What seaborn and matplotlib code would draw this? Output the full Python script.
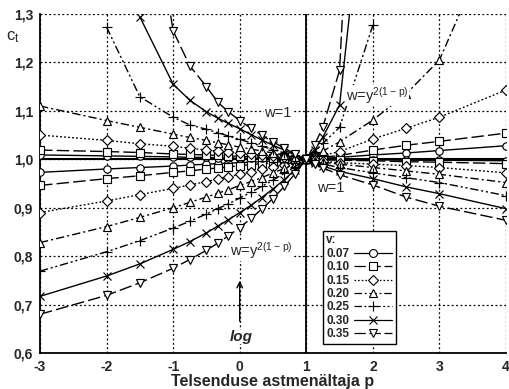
import numpy as np
import matplotlib
matplotlib.use("Agg")
import matplotlib.pyplot as plt
import seaborn as sns
from matplotlib.lines import Line2D

nan = np.nan

# ---------------- data ----------------
V_LABELS = ["0.07", "0.10", "0.15", "0.20", "0.25", "0.30", "0.35"]

P_LEFT = [-3, -2, -1.5, -1, -0.75, -0.5, -0.33, -0.17, 0, 0.17, 0.33, 0.5, 0.67, 0.83, 1]
P_RIGHT = [1, 1.125, 1.25, 1.5, 2, 2.5, 3, 4]

# left side, w = y^(2(1-p))  (lower fan)
LEFT_WY_07 = [0.973, 0.980, 0.983, 0.986, 0.988, 0.990, 0.991, 0.992, 0.993, 0.994, 0.995, 0.997, 0.998, 0.999, 1.0]
LEFT_WY_10 = [0.946, 0.960, 0.966, 0.973, 0.976, 0.980, 0.982, 0.984, 0.987, 0.989, 0.991, 0.993, 0.996, 0.998, 1.0]
LEFT_WY_15 = [0.890, 0.914, 0.927, 0.940, 0.947, 0.954, 0.959, 0.964, 0.969, 0.974, 0.979, 0.984, 0.989, 0.994, 1.0]
LEFT_WY_20 = [0.828, 0.861, 0.880, 0.900, 0.911, 0.922, 0.930, 0.937, 0.946, 0.954, 0.962, 0.972, 0.981, 0.990, 1.0]
LEFT_WY_25 = [0.769, 0.809, 0.832, 0.858, 0.872, 0.887, 0.898, 0.908, 0.920, 0.932, 0.944, 0.957, 0.971, 0.985, 1.0]
LEFT_WY_30 = [0.717, 0.759, 0.784, 0.814, 0.830, 0.848, 0.862, 0.875, 0.890, 0.905, 0.921, 0.939, 0.958, 0.978, 1.0]
LEFT_WY_35 = [0.680, 0.719, 0.745, 0.775, 0.793, 0.812, 0.827, 0.842, 0.859, 0.878, 0.897, 0.919, 0.944, 0.970, 1.0]

# left side, w = 1  (upper fan)
LEFT_W1_07 = [1.009, 1.007, 1.006, 1.005, 1.004, 1.004, 1.003, 1.003, 1.002, 1.002, 1.002, 1.001, 1.001, 1.000, 1.0]
LEFT_W1_10 = [1.019, 1.016, 1.014, 1.011, 1.010, 1.009, 1.008, 1.007, 1.006, 1.005, 1.004, 1.003, 1.002, 1.001, 1.0]
LEFT_W1_15 = [1.050, 1.039, 1.032, 1.027, 1.023, 1.019, 1.017, 1.015, 1.013, 1.010, 1.008, 1.006, 1.004, 1.002, 1.0]
LEFT_W1_20 = [1.110, 1.080, 1.066, 1.052, 1.045, 1.039, 1.034, 1.030, 1.025, 1.021, 1.017, 1.013, 1.008, 1.004, 1.0]
LEFT_W1_25 = [nan, 1.273, 1.129, 1.087, 1.071, 1.062, 1.055, 1.048, 1.041, 1.034, 1.027, 1.020, 1.013, 1.006, 1.0]
LEFT_W1_30 = [nan, nan, 1.294, 1.155, 1.122, 1.098, 1.085, 1.074, 1.063, 1.051, 1.040, 1.029, 1.019, 1.009, 1.0]
LEFT_W1_35 = [nan, nan, 1.700, 1.265, 1.193, 1.150, 1.118, 1.098, 1.080, 1.064, 1.050, 1.036, 1.023, 1.011, 1.0]

# right side, w = y^(2(1-p))  (upper fan)
RIGHT_WY_07 = [1.0, 1.001, 1.002, 1.004, 1.009, 1.013, 1.018, 1.028]
RIGHT_WY_10 = [1.0, 1.002, 1.004, 1.008, 1.019, 1.029, 1.037, 1.054]
RIGHT_WY_15 = [1.0, 1.004, 1.008, 1.016, 1.042, 1.064, 1.087, 1.143]
RIGHT_WY_20 = [1.0, 1.008, 1.017, 1.036, 1.081, 1.135, 1.205, 1.520]
RIGHT_WY_25 = [1.0, 1.015, 1.033, 1.066, 1.277, nan, nan, nan]
RIGHT_WY_30 = [1.0, 1.020, 1.046, 1.112, 1.740, nan, nan, nan]
RIGHT_WY_35 = [1.0, 1.030, 1.067, 1.184, 2.500, nan, nan, nan]

# right side, w = 1  (lower fan)
RIGHT_W1_07 = [1.0, 1.000, 1.000, 0.999, 0.999, 0.998, 0.998, 0.997]
RIGHT_W1_10 = [1.0, 0.999, 0.999, 0.998, 0.997, 0.995, 0.994, 0.991]
RIGHT_W1_15 = [1.0, 0.998, 0.996, 0.993, 0.990, 0.987, 0.983, 0.972]
RIGHT_W1_20 = [1.0, 0.997, 0.994, 0.990, 0.983, 0.976, 0.969, 0.952]
RIGHT_W1_25 = [1.0, 0.995, 0.990, 0.983, 0.972, 0.962, 0.952, 0.925]
RIGHT_W1_30 = [1.0, 0.993, 0.986, 0.975, 0.960, 0.943, 0.929, 0.898]
RIGHT_W1_35 = [1.0, 0.990, 0.982, 0.968, 0.947, 0.922, 0.903, 0.874]

X_TICKS = [-3, -2, -1, 0, 1, 2, 3, 4]
Y_TICKS = [0.6, 0.7, 0.8, 0.9, 1.0, 1.1, 1.2, 1.3]
Y_TICK_LABELS = ["0,6", "0,7", "0,8", "0,9", "1,0", "1,1", "1,2", "1,3"]

# ---------------- style ----------------
sns.set_style("white")
plt.rcParams["font.family"] = ["Liberation Sans", "DejaVu Sans"]
plt.rcParams["mathtext.fontset"] = "custom"
plt.rcParams["mathtext.rm"] = "Liberation Sans"
plt.rcParams["mathtext.it"] = "Liberation Sans:italic"
plt.rcParams["mathtext.default"] = "regular"

MARKERS = ["o", "s", "D", "^", "+", "x", "v"]
MSIZES = [5.3, 5.1, 4.9, 5.8, 7.0, 6.0, 5.8]
LSTYLES = ["-", (0, (9, 3)), (0, (1.3, 1.6)), (0, (6, 2.2, 1.5, 2.2)),
           (0, (6, 2, 1.5, 2, 1.5, 2)), "-", (0, (9, 3))]

fig = plt.figure(figsize=(5.09, 3.89), dpi=100)
ax = fig.add_axes([40 / 509, 1 - 353 / 389, 466 / 509, 339 / 389])

curves = [
    (P_LEFT, [LEFT_WY_07, LEFT_WY_10, LEFT_WY_15, LEFT_WY_20, LEFT_WY_25, LEFT_WY_30, LEFT_WY_35]),
    (P_LEFT, [LEFT_W1_07, LEFT_W1_10, LEFT_W1_15, LEFT_W1_20, LEFT_W1_25, LEFT_W1_30, LEFT_W1_35]),
    (P_RIGHT, [RIGHT_WY_07, RIGHT_WY_10, RIGHT_WY_15, RIGHT_WY_20, RIGHT_WY_25, RIGHT_WY_30, RIGHT_WY_35]),
    (P_RIGHT, [RIGHT_W1_07, RIGHT_W1_10, RIGHT_W1_15, RIGHT_W1_20, RIGHT_W1_25, RIGHT_W1_30, RIGHT_W1_35]),
]

for px, series in curves:
    for i, vals in enumerate(series):
        x = np.array(px, dtype=float)
        y = np.array(vals, dtype=float)
        ok = ~np.isnan(y)
        sns.lineplot(x=x[ok], y=y[ok], ax=ax, color="black", lw=1.0,
                     linestyle=LSTYLES[i], marker=MARKERS[i], markersize=MSIZES[i],
                     markerfacecolor="white", markeredgecolor="black",
                     markeredgewidth=0.85, estimator=None, sort=False,
                     legend=False, zorder=3)

ax.axhline(1.0, color="black", lw=1.5, zorder=2.5)
ax.axvline(1.0, color="black", lw=1.3, zorder=2.5)

ax.set_xlim(-3, 4)
ax.set_ylim(0.6, 1.3)
ax.set_xticks(X_TICKS)
ax.set_xticklabels([str(t) for t in X_TICKS], fontsize=10, fontweight="bold")
ax.set_yticks(Y_TICKS)
ax.set_yticklabels(Y_TICK_LABELS, fontsize=10, fontweight="bold")
ax.tick_params(axis="both", length=2, width=1, color="black", pad=3)

ax.grid(True, color="black", linestyle=(0, (1.5, 2)), linewidth=0.9)
for side in ["top", "right"]:
    ax.spines[side].set_visible(False)
for side in ["left", "bottom"]:
    ax.spines[side].set_color("black")
    ax.spines[side].set_linewidth(1.3)
ax.set_xlabel("Telsenduse astmenältaja p", fontsize=11.5, fontweight="bold", labelpad=0)
ax.set_ylabel("")
fig.text(0.012, 0.905, r"c$_t$", fontsize=12, ha="left", va="center")

wbox = dict(facecolor="white", edgecolor="none", pad=0.3)
ax.text(0.57, 1.095, "w=1", fontsize=10.5, ha="center", va="center", bbox=wbox, zorder=5)
ax.text(1.36, 0.94, "w=1", fontsize=10.5, ha="center", va="center", bbox=wbox, zorder=5)
ax.text(1.6, 1.121, r"w=y$^{2(1-\,p)}$", fontsize=10.5, ha="left", va="baseline",
        bbox=wbox, zorder=5)
ax.text(-0.15, 0.801, r"w=y$^{2(1-\,p)}$", fontsize=10.5, ha="left", va="baseline",
        bbox=wbox, zorder=5)
ax.text(0.02, 0.633, "log", fontsize=11, fontstyle="italic", fontweight="bold",
        ha="center", va="center", bbox=wbox, zorder=5)
ax.annotate("", xy=(0, 0.755), xytext=(0, 0.66),
            arrowprops=dict(arrowstyle="->", lw=1.0, color="black"), zorder=5)

handles = [Line2D([], [], color="black", lw=0.9, linestyle=LSTYLES[i],
                  marker=MARKERS[i], markersize=MSIZES[i] + 0.4,
                  markerfacecolor="white", markeredgecolor="black",
                  markeredgewidth=0.8) for i in range(7)]
leg = ax.legend(handles, V_LABELS, title="v:", loc="lower left",
                bbox_to_anchor=(0.607, 0.027), borderaxespad=0, markerfirst=False,
                numpoints=1, handlelength=3.2, handletextpad=0.4, labelspacing=0.12,
                borderpad=0.3, frameon=True, fancybox=False, framealpha=1,
                edgecolor="black", prop={"weight": "bold", "size": 8.5},
                title_fontproperties={"weight": "bold", "size": 8.5},
                alignment="left")
leg.get_frame().set_linewidth(1.0)
leg.set_zorder(6)

fig.savefig("out.png", dpi=100, facecolor="white")
